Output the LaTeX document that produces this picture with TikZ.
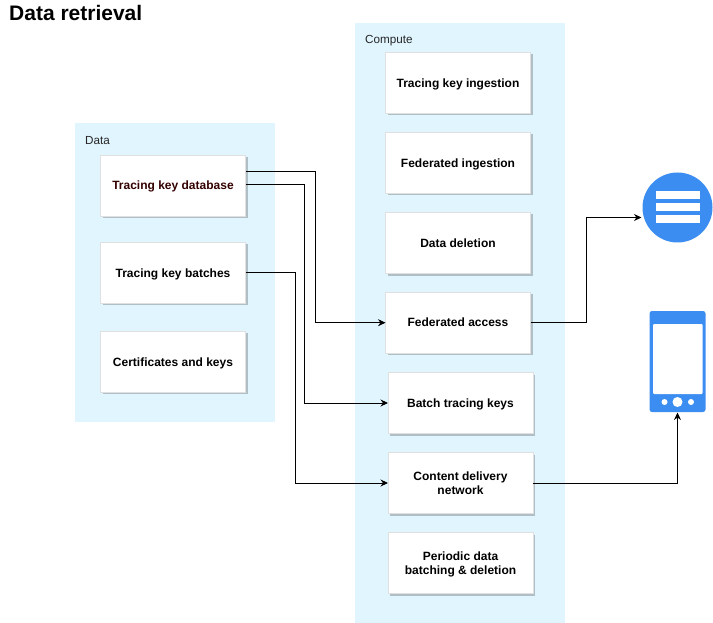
\documentclass[tikz,border=0pt]{standalone}
\usepackage{fontspec}
\setmainfont{Liberation Sans}
\usetikzlibrary{arrows.meta,calc,shadows}
\definecolor{panelc}{HTML}{E1F5FE}
\definecolor{shadowc}{HTML}{B0BEC5}
\definecolor{iconc}{HTML}{3B8DF1}
\definecolor{dbtext}{HTML}{330000}
\newcommand{\cardtext}[1]{\begin{tabular}{@{}c@{}}\noalign{\vskip 3pt}#1\end{tabular}}
\tikzset{
  x=1pt,y=-1pt,
  panel/.style={fill=panelc,draw=none,minimum width=#1,inner sep=0pt,outer sep=0pt},
  card/.style={fill=white,draw=black!12,line width=.6pt,minimum width=145pt,minimum height=61pt,inner sep=0pt,outer sep=0pt,font=\fontsize{12}{14}\selectfont\bfseries,
     general shadow={fill=shadowc,shadow xshift=2pt,shadow yshift=-2pt}},
  caption/.style={font=\fontsize{11.7}{13}\selectfont,anchor=west,inner sep=0pt,text=black!85},
  link/.style={draw=black,line width=.9pt,-{Stealth[length=7.5pt,width=7pt]}},
  plain/.style={draw=black,line width=.9pt},
}
\begin{document}
\begin{tikzpicture}
\useasboundingbox (0,0) rectangle (713,623);
\node[font=\fontsize{21}{24}\selectfont\bfseries,anchor=west,inner sep=0pt] (title) at (9,13) {Data retrieval};
\node[panel=200pt,minimum height=299pt] (data) at (175,272.5) {};
\node[panel=210pt,minimum height=600pt] (compute) at (460,323) {};
\node[caption] (datacap) at (85,140.5) {Data};
\node[caption] (compcap) at (365,40.5) {Compute};
\node[card,text=dbtext] (db) at (173,185.5) {\cardtext{Tracing key database}};
\node[card] (batches) at (173,272.7) {\cardtext{Tracing key batches}};
\node[card] (certs) at (173,361.7) {\cardtext{Certificates and keys}};
\node[card] (ingest) at (458,83) {\cardtext{Tracing key ingestion}};
\node[card] (fedin) at (458,163) {\cardtext{Federated ingestion}};
\node[card] (del) at (458,243) {\cardtext{Data deletion}};
\node[card] (fedacc) at (458,322.7) {\cardtext{Federated access}};
\node[card] (btk) at (460.5,403) {\cardtext{Batch tracing keys}};
\node[card] (cdn) at (460.5,483) {\cardtext{Content delivery\\network}};
\node[card] (periodic) at (460.5,563) {\cardtext{Periodic data\\batching \& deletion}};
% server icon
\node[circle,fill=iconc,minimum size=70pt,inner sep=0pt,outer sep=0pt] (server) at (677.5,207.5) {};
\foreach \yy in {-12,0,12}
  \fill[white] ($(server)+(-22,\yy-4)$) rectangle ($(server)+(22,\yy+4)$);
% phone icon
\node[fill=iconc,rounded corners=2.5pt,minimum width=56pt,minimum height=101pt,inner sep=0pt,outer sep=0pt] (phone) at (677.5,361.5) {};
\fill[white,rounded corners=1pt] (653,324) rectangle (702.5,394);
\fill[white] (677.5,402) circle (5pt);
\fill[white] (664.5,402) circle (3pt);
\fill[white] (691,402) circle (3pt);
% connectors
\coordinate (db1) at ($(db.east)+(0,-13.7)$);
\coordinate (db2) at ($(db.east)+(0,-.7)$);
\coordinate (j1) at (315.5,171.8);
\coordinate (j2) at (304.5,184.8);
\coordinate (j3) at (295.5,272.7);
\draw[link] (db1) -- (j1) |- (fedacc.west);
\draw[link] (db2) -- (j2) |- (btk.west);
\draw[link] (batches.east) -- (j3) |- (cdn.west);
\coordinate (j4) at (586,322.7);
\draw[plain] (fedacc.east) -- (j4);
\draw[link] (j4) |- ($(server.west)+(-1,10)$);
\draw[link] (cdn.east) -| ($(phone.south)+(0,0.5)$);
\end{tikzpicture}
\end{document}
